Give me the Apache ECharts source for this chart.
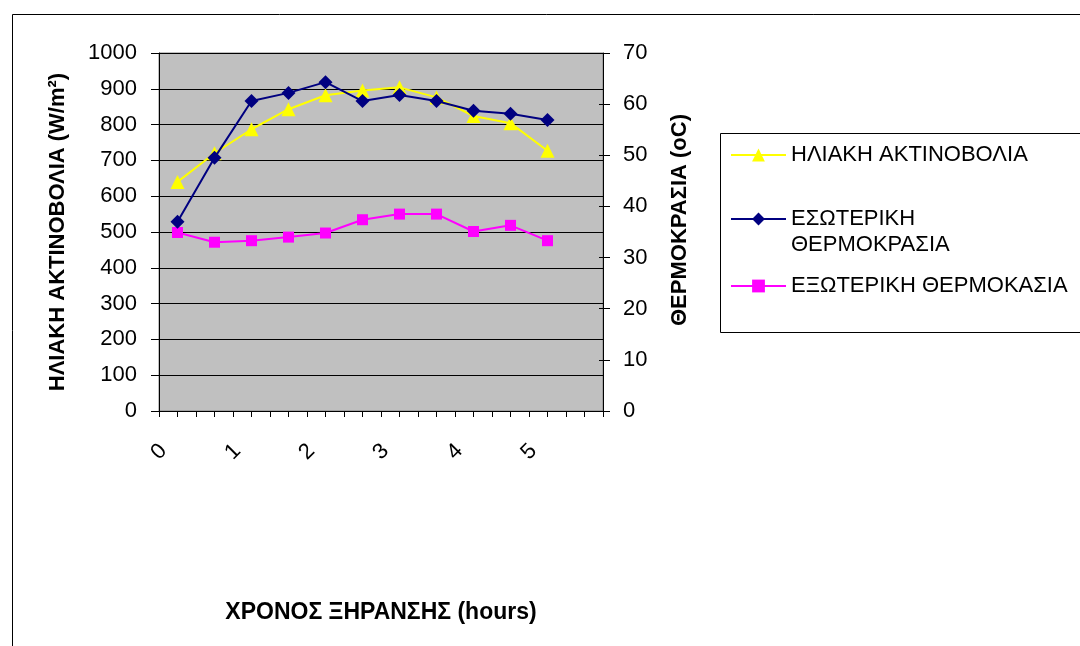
<!DOCTYPE html>
<html>
<head>
<meta charset="utf-8">
<script src="https://cdn.jsdelivr.net/npm/echarts@6/dist/echarts.min.js"></script>
<style>
  html, body { margin: 0; padding: 0; background: #ffffff; }
  #chart { width: 1080px; height: 646px; }
</style>
</head>
<body>
<div id="chart"></div>
<script>
// Drying time (hours) at which each reading was taken
const hours = [0.25, 0.75, 1.25, 1.75, 2.25, 2.75, 3.25, 3.75, 4.25, 4.75, 5.25];
// Solar radiation, W/m²
const solarRadiation = [640, 720, 787, 843, 882, 895, 904, 876, 824, 804, 727];
// Inside temperature, °C
const insideTemp = [37.0, 49.5, 60.6, 62.2, 64.3, 60.6, 61.8, 60.6, 58.7, 58.1, 56.9];
// Outside temperature, °C
const outsideTemp = [34.9, 33.0, 33.3, 34.0, 34.8, 37.4, 38.5, 38.5, 35.1, 36.3, 33.3];

const seriesNames = ['ΗΛΙΑΚΗ ΑΚΤΙΝΟΒΟΛΙΑ', 'ΕΣΩΤΕΡΙΚΗ ΘΕΡΜΟΚΡΑΣΙΑ', 'ΕΞΩΤΕΡΙΚΗ ΘΕΡΜΟΚΑΣΙΑ'];
const xTitle = 'ΧΡΟΝΟΣ ΞΗΡΑΝΣΗΣ (hours)';
const leftTitle = 'ΗΛΙΑΚΗ ΑΚΤΙΝΟΒΟΛΙΑ (W/m²)';
const rightTitle = 'ΘΕΡΜΟΚΡΑΣΙΑ (oC)';

const FONT = 'Liberation Sans, Arial, sans-serif';
const pair = (vals) => vals.map((v, i) => [hours[i], v]);

const chart = echarts.init(document.getElementById('chart'), null, { renderer: 'canvas' });

const legendBase = {
  orient: 'vertical',
  left: 730,
  padding: 0,
  itemWidth: 55,
  itemHeight: 16,
  itemGap: 0,
  selectedMode: false,
  textStyle: { fontFamily: FONT, fontSize: 22, color: '#000', lineHeight: 26 }
};

chart.setOption({
  backgroundColor: '#ffffff',
  animation: false,
  grid: {
    left: 159, right: 477, top: 53, bottom: 235,
    show: true, backgroundColor: '#C0C0C0', borderColor: '#808080', borderWidth: 1
  },
  graphic: [
    { type: 'rect', z: -10, shape: { x: 12.5, y: 14.5, width: 2000, height: 2000 },
      style: { fill: null, stroke: '#000', lineWidth: 1 } },
    { type: 'rect', z: -10, shape: { x: 720.5, y: 133.5, width: 600, height: 199 },
      style: { fill: null, stroke: '#000', lineWidth: 1 } }
  ],
  legend: [
    Object.assign({}, legendBase, { top: 142, data: [seriesNames[0]] }),
    Object.assign({}, legendBase, {
      // two-line entry: the marker sits beside the first line
      top: 180, data: [seriesNames[1]],
      formatter: (n) => '\n' + n.replace(' ', '\n')
    }),
    Object.assign({}, legendBase, { top: 273, data: [seriesNames[2]] })
  ],
  xAxis: {
    type: 'value', min: 0, max: 6, interval: 0.25,
    name: xTitle, nameLocation: 'middle', nameGap: 190,
    nameTextStyle: { fontFamily: FONT, fontSize: 23, fontWeight: 'bold', color: '#000' },
    axisLine: { show: true, lineStyle: { color: '#000', width: 1 } },
    axisTick: { show: true, inside: false, length: 6, lineStyle: { color: '#000' } },
    splitLine: { show: false },
    axisLabel: {
      rotate: 45, margin: 41, align: 'center', verticalAlign: 'middle',
      fontFamily: FONT, fontSize: 22, color: '#000',
      formatter: (v) => (Number.isInteger(v) && v < 6 ? String(v) : '')
    }
  },
  yAxis: [
    {
      type: 'value', position: 'left', min: 0, max: 1000, interval: 100,
      name: leftTitle, nameLocation: 'middle', nameRotate: 90, nameGap: 90,
      nameTextStyle: { fontFamily: FONT, fontSize: 22, fontWeight: 'bold', color: '#000' },
      axisLine: { show: true, lineStyle: { color: '#000', width: 1 } },
      axisTick: { show: true, inside: false, length: 8, lineStyle: { color: '#000' } },
      splitLine: { show: true, lineStyle: { color: '#000', width: 1 } },
      axisLabel: { margin: 22, fontFamily: FONT, fontSize: 22, color: '#000', formatter: (v) => String(v) }
    },
    {
      type: 'value', position: 'right', min: 0, max: 70, interval: 10,
      name: rightTitle, nameLocation: 'middle', nameRotate: 90, nameGap: 66,
      nameTextStyle: { fontFamily: FONT, fontSize: 22, fontWeight: 'bold', color: '#000', padding: [0, 0, 0, 24] },
      axisLine: { show: true, lineStyle: { color: '#000', width: 1 } },
      axisTick: { show: true, inside: false, length: 7, lineStyle: { color: '#000' } },
      splitLine: { show: false },
      axisLabel: { margin: 20, fontFamily: FONT, fontSize: 22, color: '#000' }
    },
    {
      // inner half of the crossing ticks on the temperature axis
      type: 'value', position: 'right', min: 0, max: 70, interval: 10,
      axisLine: { show: false },
      axisTick: { show: true, inside: true, length: 4, lineStyle: { color: '#000' } },
      splitLine: { show: false },
      axisLabel: { show: false }
    }
  ],
  series: [
    {
      name: seriesNames[0], type: 'line', yAxisIndex: 0, data: pair(solarRadiation),
      symbol: 'triangle', symbolSize: 14,
      lineStyle: { color: '#FFFF00', width: 2 },
      itemStyle: { color: '#FFFF00' }, z: 3
    },
    {
      name: seriesNames[1], type: 'line', yAxisIndex: 1, data: pair(insideTemp),
      symbol: 'diamond', symbolSize: 14,
      lineStyle: { color: '#000080', width: 2 },
      itemStyle: { color: '#000080' }, z: 4
    },
    {
      name: seriesNames[2], type: 'line', yAxisIndex: 1, data: pair(outsideTemp),
      symbol: 'rect', symbolSize: 11,
      lineStyle: { color: '#FF00FF', width: 2 },
      itemStyle: { color: '#FF00FF' }, z: 3
    }
  ]
});
</script>
</body>
</html>
